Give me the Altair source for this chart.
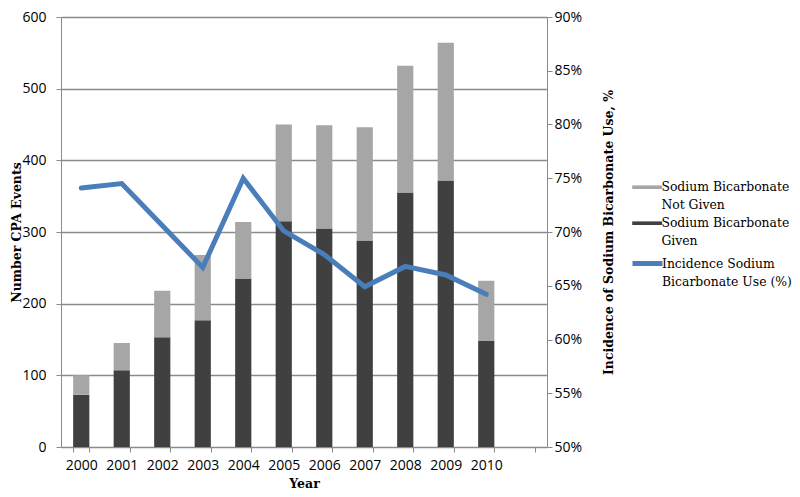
import altair as alt
import pandas as pd

years = ["2000", "2001", "2002", "2003", "2004", "2005", "2006", "2007", "2008", "2009", "2010"]
x_domain = years + ["2011"]
given = [73, 107, 153, 177, 235, 315, 305, 288, 355, 372, 148]
not_given = [27, 38, 65, 91, 79, 135, 144, 158, 177, 192, 84]
incidence = [0.741, 0.745, 0.706, 0.667, 0.750, 0.701, 0.679, 0.649, 0.668, 0.660, 0.642]

fill_domain = ["Sodium Bicarbonate", "Not Given", "Sodium Bicarbonate\u200b", "Given"]
fill_range = ["#A6A6A6", "transparent", "#404040", "transparent"]
stroke_domain = ["Incidence Sodium", "Bicarbonate Use (%)"]
stroke_range = ["#4A7EBB", "transparent"]

bar_rows = []
for y, g, n in zip(years, given, not_given):
    bar_rows.append({"year": y, "series": fill_domain[2], "count": g, "ord": 0})
    bar_rows.append({"year": y, "series": fill_domain[0], "count": n, "ord": 1})
bar_df = pd.DataFrame(bar_rows)
line_df = pd.DataFrame({"year": years, "pct": incidence, "series": stroke_domain[0]})

tick_font = "Open Sans"
title_font = "DejaVu Serif"
grid_col = "#8A8A8A"

x_enc = alt.X(
    "year:N",
    scale=alt.Scale(domain=x_domain, paddingInner=0.6, paddingOuter=0.3),
    axis=alt.Axis(
        title="Year", labelAngle=0, tickBand="extent", tickSize=5, tickColor=grid_col,
        domainColor=grid_col, labelFont=tick_font, labelFontSize=14, labelColor="black",
        labelPadding=6, labelExpr="datum.value == '2011' ? '' : datum.value",
        titleFont=title_font, titleFontSize=12.5, titleFontWeight="bold", titleColor="black",
        titleBaseline="alphabetic", titleY=40, grid=False,
    ),
)

bars = alt.Chart(bar_df).mark_bar().encode(
    x=x_enc,
    y=alt.Y(
        "count:Q", stack="zero",
        scale=alt.Scale(domain=[0, 600]),
        axis=alt.Axis(
            title="Number CPA Events", values=[0, 100, 200, 300, 400, 500, 600],
            tickSize=5, tickColor=grid_col, domainColor=grid_col, gridColor=grid_col,
            gridWidth=1.3, grid=True, labelFont=tick_font, labelFontSize=14,
            labelColor="black", labelPadding=10,
            titleFont=title_font, titleFontSize=12.5, titleFontWeight="bold",
            titleColor="black", titleAngle=270, titleBaseline="middle", titleX=-45,
        ),
    ),
    fill=alt.Fill(
        "series:N",
        scale=alt.Scale(domain=fill_domain, range=fill_range),
        legend=alt.Legend(
            title=None, orient="none", legendX=580, legendY=164,
            symbolType="M-3.75,-0.45H3.75V0.45H-3.75Z", symbolSize=64,
            symbolStrokeWidth=0, labelFont=title_font, labelFontSize=12.4,
            labelColor="black", rowPadding=5, labelOffset=8,
        ),
    ),
    order=alt.Order("ord:Q"),
)

line = alt.Chart(line_df).mark_line(strokeWidth=5, strokeCap="round").encode(
    x=x_enc,
    y=alt.Y(
        "pct:Q",
        scale=alt.Scale(domain=[0.5, 0.9]),
        axis=alt.Axis(
            orient="right", title="Incidence of Sodium Bicarbonate Use, %",
            format=".0%", values=[0.5, 0.55, 0.6, 0.65, 0.7, 0.75, 0.8, 0.85, 0.9],
            tickSize=5, tickColor=grid_col, domainColor=grid_col, grid=False,
            labelFont=tick_font, labelFontSize=14, labelColor="black", labelPadding=2,
            titleFont=title_font, titleFontSize=12.5, titleFontWeight="bold",
            titleColor="black", titleAngle=270, titleBaseline="middle", titleX=61,
        ),
    ),
    stroke=alt.Stroke(
        "series:N",
        scale=alt.Scale(domain=stroke_domain, range=stroke_range),
        legend=alt.Legend(
            title=None, orient="none", legendX=580, legendY=240,
            symbolType="M-3.75,0H3.75", symbolSize=64, symbolStrokeWidth=5,
            labelFont=title_font, labelFontSize=12.4, labelColor="black", rowPadding=-3,
            labelOffset=8,
        ),
    ),
)

chart = alt.layer(bars, line).resolve_scale(y="independent").properties(
    width=486, height=430,
    autosize=alt.AutoSizeParams(type="none"),
    padding={"left": 53, "top": 9, "right": 245, "bottom": 42},
).configure_view(stroke=None)

chart.save("out.html", embed_options={"renderer": "svg", "actions": False})
